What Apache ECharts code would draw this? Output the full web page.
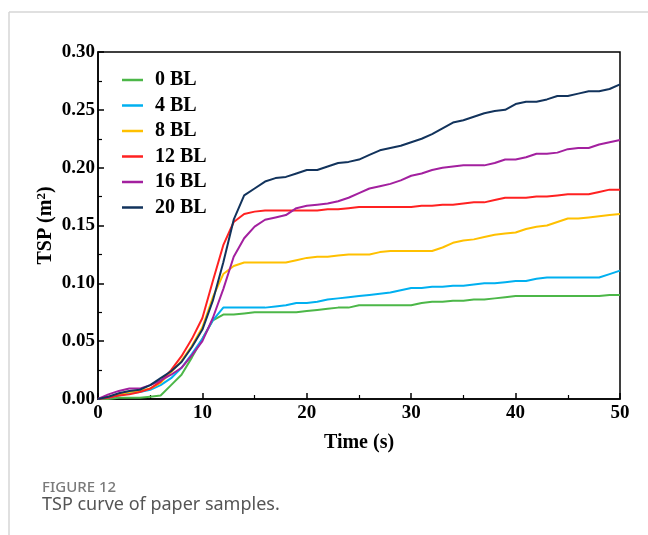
<!DOCTYPE html>
<html>
<head>
<meta charset="utf-8">
<script src="https://cdn.jsdelivr.net/npm/echarts@6/dist/echarts.min.js"></script>
<style>
  html, body { margin: 0; padding: 0; background: #fff; }
  #chart { width: 648px; height: 535px; }
</style>
</head>
<body>
<div id="chart"></div>
<script>
// Time axis, 1 s steps from 0 to 50 s
const times = Array.from({ length: 51 }, (_, i) => i);

const seriesNames = ['0 BL', '4 BL', '8 BL', '12 BL', '16 BL', '20 BL'];
const seriesColors = ['#4cb748', '#00b0f0', '#ffc000', '#ff2121', '#a3209f', '#12335c'];

// Total smoke production (m²) per sample
const tsp0 = [0,0,0.001,0.001,0.001,0.002,0.003,0.012,0.021,0.036,0.052,0.068,0.073,0.073,0.074,0.075,0.075,0.075,0.075,0.075,0.076,0.077,0.078,0.079,0.079,0.081,0.081,0.081,0.081,0.081,0.081,0.083,0.084,0.084,0.085,0.085,0.086,0.086,0.087,0.088,0.089,0.089,0.089,0.089,0.089,0.089,0.089,0.089,0.089,0.09,0.09];
const tsp4 = [0,0.001,0.003,0.005,0.006,0.008,0.012,0.018,0.027,0.039,0.052,0.068,0.079,0.079,0.079,0.079,0.079,0.080,0.081,0.083,0.083,0.084,0.086,0.087,0.088,0.089,0.090,0.091,0.092,0.094,0.096,0.096,0.097,0.097,0.098,0.098,0.099,0.100,0.100,0.101,0.102,0.102,0.104,0.105,0.105,0.105,0.105,0.105,0.105,0.108,0.111];
const tsp8 = [0,0.002,0.004,0.006,0.007,0.009,0.014,0.023,0.033,0.046,0.062,0.088,0.108,0.115,0.118,0.118,0.118,0.118,0.118,0.120,0.122,0.123,0.123,0.124,0.125,0.125,0.125,0.127,0.128,0.128,0.128,0.128,0.128,0.131,0.135,0.137,0.138,0.140,0.142,0.143,0.144,0.147,0.149,0.150,0.153,0.156,0.156,0.157,0.158,0.159,0.160];
const tsp12 = [0,0.001,0.003,0.004,0.006,0.009,0.015,0.025,0.037,0.052,0.070,0.102,0.133,0.153,0.160,0.162,0.163,0.163,0.163,0.163,0.163,0.163,0.164,0.164,0.165,0.166,0.166,0.166,0.166,0.166,0.166,0.167,0.167,0.168,0.168,0.169,0.170,0.170,0.172,0.174,0.174,0.174,0.175,0.175,0.176,0.177,0.177,0.177,0.179,0.181,0.181];
const tsp16 = [0,0.004,0.007,0.009,0.009,0.012,0.016,0.021,0.027,0.038,0.050,0.070,0.095,0.123,0.139,0.149,0.155,0.157,0.159,0.165,0.167,0.168,0.169,0.171,0.174,0.178,0.182,0.184,0.186,0.189,0.193,0.195,0.198,0.200,0.201,0.202,0.202,0.202,0.204,0.207,0.207,0.209,0.212,0.212,0.213,0.216,0.217,0.217,0.220,0.222,0.224];
const tsp20 = [0,0.002,0.005,0.007,0.008,0.012,0.018,0.024,0.032,0.045,0.060,0.085,0.118,0.155,0.176,0.182,0.188,0.191,0.192,0.195,0.198,0.198,0.201,0.204,0.205,0.207,0.211,0.215,0.217,0.219,0.222,0.225,0.229,0.234,0.239,0.241,0.244,0.247,0.249,0.250,0.255,0.257,0.257,0.259,0.262,0.262,0.264,0.266,0.266,0.268,0.272];

const seriesValues = [tsp0, tsp4, tsp8, tsp12, tsp16, tsp20];

const serifBold = { fontFamily: 'Liberation Serif', fontWeight: 'bold', color: '#000' };

const chart = echarts.init(document.getElementById('chart'), null, { renderer: 'canvas' });

chart.setOption({
  backgroundColor: '#fff',
  animation: false,
  grid: {
    left: 98, right: 28, top: 52, bottom: 136,
    show: true, borderColor: '#000', borderWidth: 1.5, backgroundColor: 'transparent'
  },
  legend: {
    orient: 'vertical',
    left: 117, top: 65,
    icon: 'rect',
    itemWidth: 21, itemHeight: 2.5,
    itemGap: 5.5,
    textStyle: Object.assign({ fontSize: 20, padding: [0, 0, 0, 7] }, serifBold),
    data: seriesNames
  },
  xAxis: {
    type: 'value',
    min: 0, max: 50, interval: 10,
    name: 'Time (s)',
    nameLocation: 'middle',
    nameGap: 34,
    nameMoveOverlap: false,
    nameTextStyle: Object.assign({ fontSize: 20 }, serifBold),
    axisLine: { lineStyle: { color: '#000', width: 1.5 } },
    axisTick: { inside: true, length: 6, lineStyle: { color: '#000', width: 1.5 } },
    minorTick: { show: true, splitNumber: 2, length: 4, lineStyle: { color: '#000', width: 1.2 } },
    splitLine: { show: false },
    axisLabel: Object.assign({ fontSize: 19, margin: 5 }, serifBold)
  },
  yAxis: {
    type: 'value',
    min: 0, max: 0.3, interval: 0.05,
    name: '{a|TSP (m}{s|2}{a|)}',
    nameLocation: 'middle',
    nameGap: 42,
    nameRotate: 90,
    nameMoveOverlap: false,
    nameTextStyle: {
      rich: {
        a: Object.assign({ fontSize: 20 }, serifBold),
        s: Object.assign({ fontSize: 13, verticalAlign: 'top', padding: [0, 0, 8, 0] }, serifBold)
      }
    },
    axisLine: { lineStyle: { color: '#000', width: 1.5 } },
    axisTick: { inside: true, length: 6, lineStyle: { color: '#000', width: 1.5 } },
    minorTick: { show: true, splitNumber: 2, length: 4, lineStyle: { color: '#000', width: 1.2 } },
    splitLine: { show: false },
    axisLabel: Object.assign({ fontSize: 19, margin: 3, formatter: v => v.toFixed(2) }, serifBold)
  },
  series: seriesNames.map((name, k) => ({
    name,
    type: 'line',
    data: times.map((t, i) => [t, seriesValues[k][i]]),
    showSymbol: false,
    symbol: 'none',
    color: seriesColors[k],
    lineStyle: { width: 2, color: seriesColors[k] },
    z: 2 + k
  })),
  graphic: [
    { type: 'line', shape: { x1: 9, y1: 12, x2: 648, y2: 12 }, style: { stroke: '#d6d6d6', lineWidth: 1.5 }, silent: true },
    { type: 'line', shape: { x1: 9, y1: 12, x2: 9, y2: 535 }, style: { stroke: '#d6d6d6', lineWidth: 1.5 }, silent: true },
    { type: 'text', left: 42, top: 480, style: { text: 'FIGURE 12', font: '500 15px "Noto Sans"', fill: '#7a7a7a' } },
    { type: 'text', left: 42, top: 496, style: { text: 'TSP curve of paper samples.', font: '18px "Noto Sans"', fill: '#555' } }
  ]
});
</script>
</body>
</html>
